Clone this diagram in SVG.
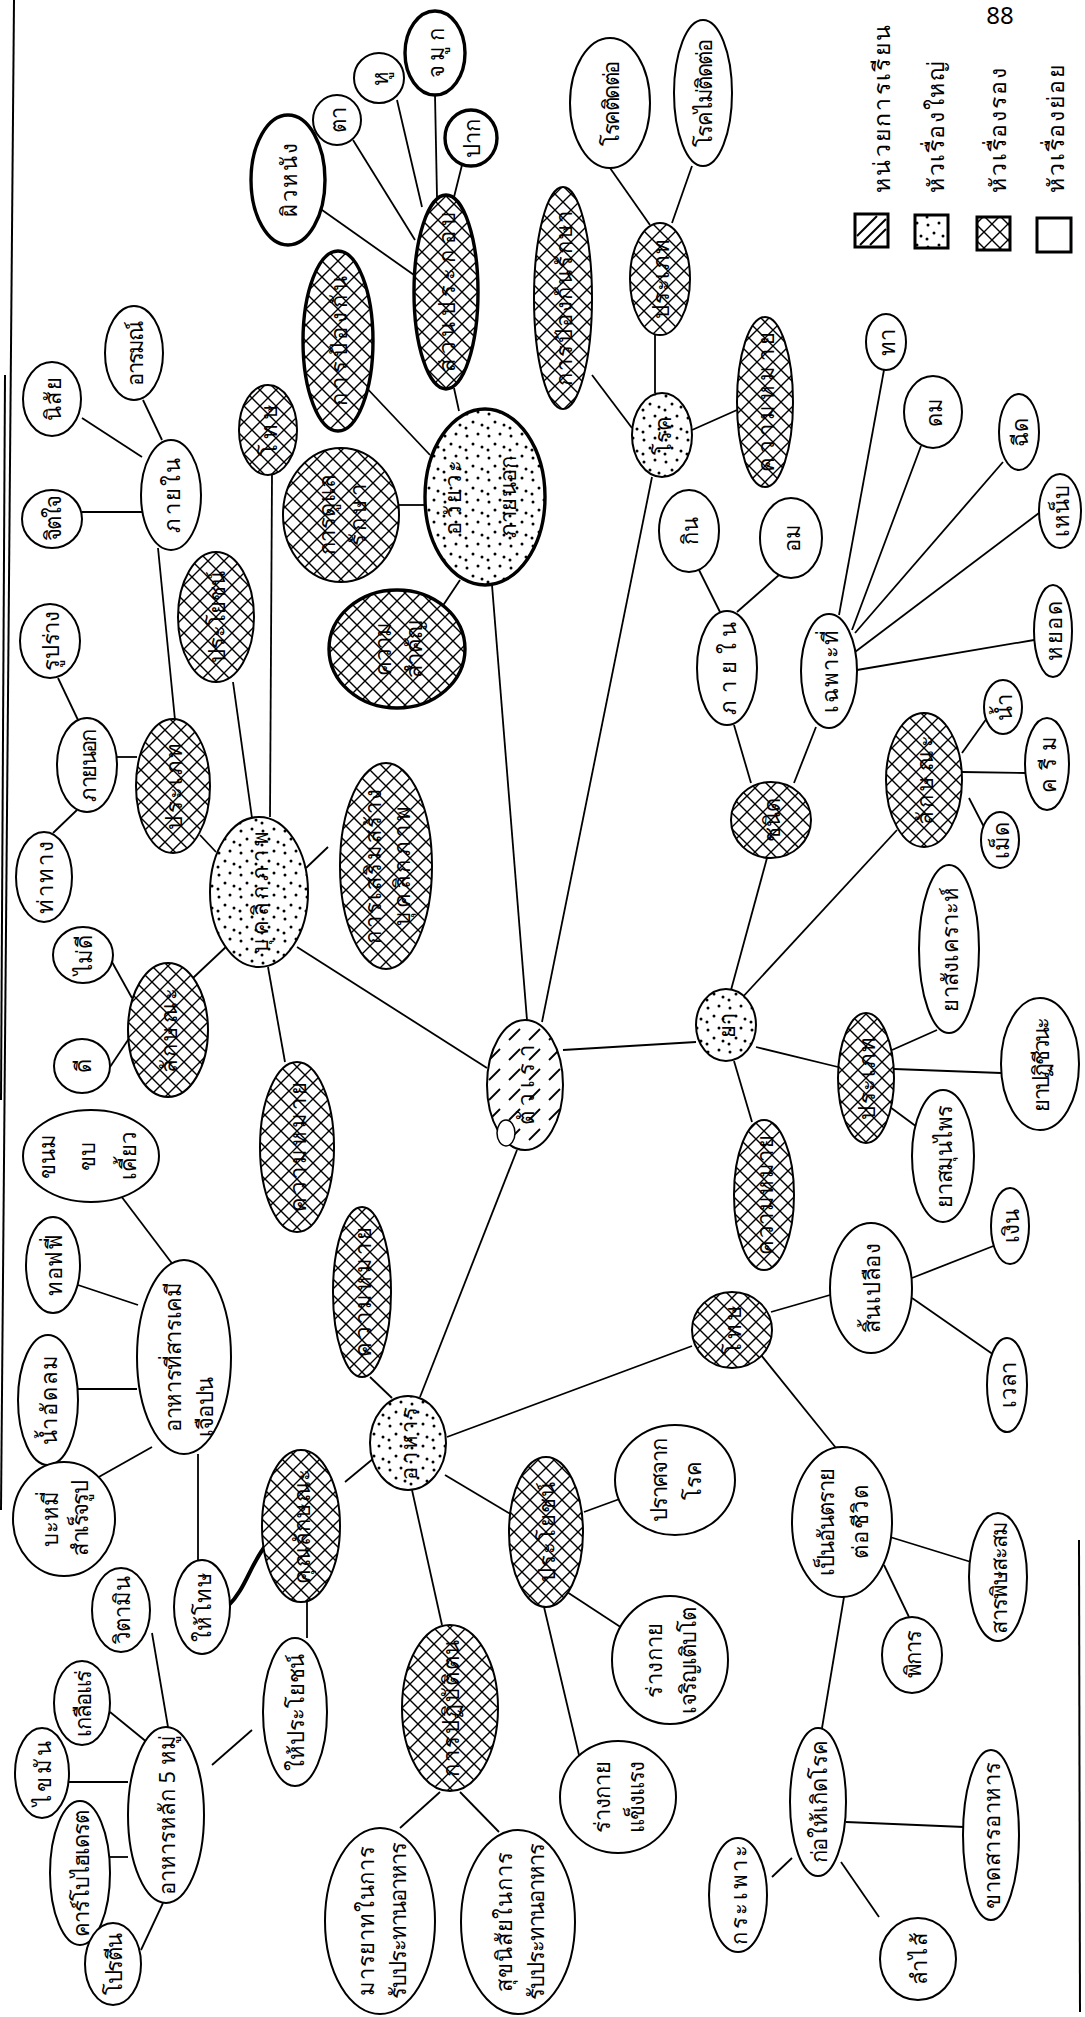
<svg xmlns="http://www.w3.org/2000/svg" width="1085" height="2017" viewBox="0 0 1085 2017">
<style>
.bg{fill:#fff}
.n{fill:#fff;stroke:#000;stroke-width:2}
.thick{stroke-width:3.4}
.dot{fill:url(#dots)}
.cross{fill:url(#cross)}
.hatch{fill:url(#hatch)}
.e line,.e path{stroke:#000;stroke-width:1.8;fill:none}
text{font-family:'Noto Sans','DejaVu Sans',sans-serif;font-size:22px;fill:#000;text-anchor:middle;dominant-baseline:central}
.lg{font-size:23px;text-anchor:start}
.border{stroke:#000;stroke-width:2;fill:none}
</style>
<defs>
<pattern id="dots" patternUnits="userSpaceOnUse" width="22" height="22">
<rect width="22" height="22" fill="#fff"/>
<circle cx="4" cy="5" r="1.5" fill="#000"/><circle cx="15" cy="3" r="1.5" fill="#000"/><circle cx="10" cy="13" r="1.5" fill="#000"/><circle cx="19" cy="16" r="1.5" fill="#000"/><circle cx="3" cy="19" r="1.5" fill="#000"/>
</pattern>
<pattern id="cross" patternUnits="userSpaceOnUse" width="16" height="16">
<rect width="16" height="16" fill="#fff"/>
<path d="M0,0 L16,16 M16,0 L0,16" stroke="#000" stroke-width="1.4"/>
</pattern>
<pattern id="hatch" patternUnits="userSpaceOnUse" width="20" height="20">
<rect width="20" height="20" fill="#fff"/>
<path d="M4,15 L15,4" stroke="#000" stroke-width="1.8"/>
</pattern>
</defs>
<rect class="bg" width="1085" height="2017"/>

<g id="frame">
<line class="border" x1="14" y1="0" x2="1" y2="1510"/>
<line class="border" x1="5" y1="375" x2="1" y2="1100"/>
<line class="border" x1="1079" y1="1540" x2="1080" y2="2012"/>
</g>

<g id="connectors" class="e">
<line x1="82" y1="418" x2="142" y2="457"/>
<line x1="143" y1="400" x2="162" y2="440"/>
<line x1="82" y1="512" x2="142" y2="512"/>
<line x1="158" y1="548" x2="175" y2="720"/>
<line x1="58" y1="678" x2="78" y2="720"/>
<line x1="53" y1="833" x2="77" y2="810"/>
<line x1="117" y1="757" x2="137" y2="757"/>
<line x1="200" y1="835" x2="216" y2="852"/>
<line x1="233" y1="682" x2="252" y2="818"/>
<line x1="272" y1="475" x2="270" y2="817"/>
<line x1="306" y1="868" x2="328" y2="847"/>
<line x1="228" y1="945" x2="193" y2="978"/>
<line x1="112" y1="962" x2="132" y2="998"/>
<line x1="110" y1="1067" x2="130" y2="1037"/>
<line x1="268" y1="967" x2="285" y2="1062"/>
<line x1="297" y1="947" x2="487" y2="1068"/>
<line x1="118" y1="1192" x2="177" y2="1270"/>
<line x1="78" y1="1285" x2="138" y2="1305"/>
<line x1="78" y1="1389" x2="137" y2="1389"/>
<line x1="97" y1="1478" x2="152" y2="1447"/>
<line x1="198" y1="1454" x2="198" y2="1560"/>
<path d="M228,1606 C245,1590 250,1565 266,1545" style="stroke-width:4"/>
<line x1="307" y1="1601" x2="307" y2="1638"/>
<line x1="252" y1="1730" x2="212" y2="1765"/>
<line x1="152" y1="1633" x2="168" y2="1727"/>
<line x1="110" y1="1712" x2="148" y2="1743"/>
<line x1="68" y1="1782" x2="128" y2="1782"/>
<line x1="110" y1="1857" x2="128" y2="1857"/>
<line x1="141" y1="1950" x2="163" y2="1903"/>
<line x1="345" y1="1482" x2="374" y2="1458"/>
<line x1="370" y1="1377" x2="392" y2="1398"/>
<line x1="517" y1="1150" x2="420" y2="1397"/>
<line x1="447" y1="1437" x2="692" y2="1346"/>
<line x1="445" y1="1475" x2="512" y2="1515"/>
<line x1="412" y1="1490" x2="442" y2="1625"/>
<line x1="440" y1="1792" x2="400" y2="1828"/>
<line x1="460" y1="1792" x2="499" y2="1832"/>
<line x1="584" y1="1512" x2="625" y2="1497"/>
<line x1="567" y1="1592" x2="622" y2="1628"/>
<line x1="544" y1="1607" x2="579" y2="1755"/>
<line x1="771" y1="1312" x2="830" y2="1295"/>
<line x1="912" y1="1278" x2="996" y2="1245"/>
<line x1="912" y1="1298" x2="994" y2="1355"/>
<line x1="761" y1="1355" x2="836" y2="1448"/>
<line x1="890" y1="1537" x2="971" y2="1562"/>
<line x1="884" y1="1565" x2="909" y2="1617"/>
<line x1="844" y1="1597" x2="822" y2="1728"/>
<line x1="846" y1="1822" x2="964" y2="1827"/>
<line x1="792" y1="1858" x2="772" y2="1877"/>
<line x1="841" y1="1862" x2="879" y2="1917"/>
<line x1="563" y1="1050" x2="696" y2="1042"/>
<line x1="756" y1="1047" x2="838" y2="1067"/>
<line x1="892" y1="1050" x2="937" y2="1030"/>
<line x1="894" y1="1069" x2="1001" y2="1073"/>
<line x1="890" y1="1107" x2="917" y2="1127"/>
<line x1="734" y1="1061" x2="752" y2="1122"/>
<line x1="731" y1="990" x2="767" y2="858"/>
<line x1="740" y1="1000" x2="897" y2="830"/>
<line x1="962" y1="753" x2="987" y2="718"/>
<line x1="962" y1="772" x2="1026" y2="773"/>
<line x1="969" y1="798" x2="984" y2="827"/>
<line x1="751" y1="783" x2="734" y2="725"/>
<line x1="794" y1="783" x2="816" y2="727"/>
<line x1="720" y1="612" x2="699" y2="570"/>
<line x1="737" y1="612" x2="779" y2="575"/>
<line x1="839" y1="615" x2="884" y2="370"/>
<line x1="852" y1="630" x2="921" y2="446"/>
<line x1="855" y1="633" x2="1003" y2="462"/>
<line x1="855" y1="652" x2="1039" y2="513"/>
<line x1="857" y1="670" x2="1034" y2="640"/>
<line x1="542" y1="1022" x2="652" y2="477"/>
<line x1="527" y1="1020" x2="492" y2="585"/>
<line x1="692" y1="430" x2="737" y2="410"/>
<line x1="655" y1="393" x2="655" y2="335"/>
<line x1="650" y1="225" x2="610" y2="168"/>
<line x1="672" y1="223" x2="692" y2="166"/>
<line x1="632" y1="428" x2="592" y2="375"/>
<line x1="459" y1="411" x2="454" y2="388"/>
<line x1="430" y1="455" x2="362" y2="383"/>
<line x1="424" y1="505" x2="399" y2="505"/>
<line x1="460" y1="580" x2="442" y2="607"/>
<line x1="315" y1="205" x2="414" y2="275"/>
<line x1="353" y1="140" x2="415" y2="240"/>
<line x1="397" y1="100" x2="422" y2="207"/>
<line x1="435" y1="95" x2="437" y2="197"/>
<line x1="462" y1="165" x2="454" y2="197"/>
</g>

<g id="nodes">
<g id="n-nisai" transform="translate(52,399)"><ellipse class="n" rx="29" ry="37"/><text transform="rotate(-90)" textLength="44">นิสัย</text></g>
<g id="n-arom" transform="translate(134,353)"><ellipse class="n" rx="29" ry="47"/><text transform="rotate(-90)" textLength="65">อารมณ์</text></g>
<g id="n-phainai1" transform="translate(171,495)"><ellipse class="n" rx="30" ry="55"/><text transform="rotate(-90)" textLength="75">ภายใน</text></g>
<g id="n-chitjai" transform="translate(52,519)"><ellipse class="n" rx="30" ry="29"/><text transform="rotate(-90)" textLength="46">จิตใจ</text></g>
<g id="n-ruprang" transform="translate(50,641)"><ellipse class="n" rx="30" ry="37"/><text transform="rotate(-90)" textLength="60">รูปร่าง</text></g>
<g id="n-phainok" transform="translate(87,765)"><ellipse class="n" rx="30" ry="47"/><text transform="rotate(-90)" textLength="73">ภายนอก</text></g>
<g id="n-thathang" transform="translate(44,877)"><ellipse class="n" rx="28" ry="45"/><text transform="rotate(-90)" textLength="73">ท่าทาง</text></g>
<g id="n-prapet1" transform="translate(173,786)"><ellipse class="n cross" rx="37" ry="67"/><text transform="rotate(-90)" textLength="87">ประเภท</text></g>
<g id="n-prayot1" transform="translate(216,617)"><ellipse class="n cross" rx="38" ry="65"/><text transform="rotate(-90)" textLength="92">ประโยชน์</text></g>
<g id="n-toht1" transform="translate(268,430)"><ellipse class="n cross" rx="29" ry="45"/><text transform="rotate(-90)" textLength="52">โทษ</text></g>
<g id="n-buk" transform="translate(259,892)"><ellipse class="n dot" rx="49" ry="75"/><text transform="rotate(-90)" textLength="122">บุคลิกภาพ</text></g>
<g id="n-maidee" transform="translate(83,955)"><ellipse class="n" rx="30" ry="28"/><text transform="rotate(-90)">ไม่ดี</text></g>
<g id="n-dee" transform="translate(82,1066)"><ellipse class="n" rx="28" ry="27"/><text transform="rotate(-90)">ดี</text></g>
<g id="n-laksana1" transform="translate(168,1030)"><ellipse class="n cross" rx="40" ry="67"/><text transform="rotate(-90)" textLength="85">ลักษณะ</text></g>
<g id="n-khwammai1" transform="translate(297,1147)"><ellipse class="n cross" rx="37" ry="85"/><text transform="rotate(-90)" textLength="130">ความหมาย</text></g>
<g id="n-soemsang" transform="translate(386,866)"><ellipse class="n cross" rx="46" ry="103"/><text transform="translate(-14,0) rotate(-90)" textLength="155">การเสริมสร้าง</text><text transform="translate(15,0) rotate(-90)" textLength="120">บุคลิกภาพ</text></g>
<g id="n-khanom" transform="translate(91,1156)"><ellipse class="n" rx="68" ry="46"/><text transform="translate(-45,0) rotate(-90)">ขนม</text><text transform="translate(-5,0) rotate(-90)">ขบ</text><text transform="translate(36,0) rotate(-90)">เคี้ยว</text></g>
<g id="n-toffee" transform="translate(53,1265)"><ellipse class="n" rx="27" ry="48"/><text transform="rotate(-90)" textLength="62">ทอฟฟี่</text></g>
<g id="n-namatlom" transform="translate(48,1400)"><ellipse class="n" rx="30" ry="65"/><text transform="rotate(-90)" textLength="90">น้ำอัดลม</text></g>
<g id="n-chemical" transform="translate(184,1357)"><ellipse class="n" rx="47" ry="97"/><text transform="translate(-12,0) rotate(-90)" textLength="150">อาหารที่สารเคมี</text><text transform="translate(20,50) rotate(-90)" textLength="60">เจือปน</text></g>
<g id="n-bami" transform="translate(64,1519)"><ellipse class="n" rx="51" ry="57"/><text transform="translate(-15,0) rotate(-90)">บะหมี่</text><text transform="translate(15,0) rotate(-90)" textLength="76">สำเร็จรูป</text></g>
<g id="n-witamin" transform="translate(121,1610)"><ellipse class="n" rx="29" ry="42"/><text transform="rotate(-90)">วิตามิน</text></g>
<g id="n-haitoht" transform="translate(202,1607)"><ellipse class="n" rx="28" ry="47"/><text transform="rotate(-90)" textLength="70">ให้โทษ</text></g>
<g id="n-khunlaksana" transform="translate(301,1526)"><ellipse class="n cross" rx="39" ry="76"/><text transform="rotate(-90)" textLength="115">คุณลักษณะ</text></g>
<g id="n-haiprayot" transform="translate(295,1712)"><ellipse class="n" rx="32" ry="74"/><text transform="rotate(-90)" textLength="117">ให้ประโยชน์</text></g>
<g id="n-lak5" transform="translate(166,1815)"><ellipse class="n" rx="38" ry="88"/><text transform="rotate(-90)" textLength="160">อาหารหลัก 5 หมู่</text></g>
<g id="n-kluea" transform="translate(82,1703)"><ellipse class="n" rx="28" ry="42"/><text transform="rotate(-90)" textLength="67">เกลือแร่</text></g>
<g id="n-khaiman" transform="translate(42,1773)"><ellipse class="n" rx="27" ry="45"/><text transform="rotate(-90)" textLength="65">ไขมัน</text></g>
<g id="n-carb" transform="translate(80,1873)"><ellipse class="n" rx="30" ry="72"/><text transform="rotate(-90)" textLength="127">คาร์โบไฮเดรต</text></g>
<g id="n-protein" transform="translate(113,1964)"><ellipse class="n" rx="28" ry="41"/><text transform="rotate(-90)" textLength="62">โปรตีน</text></g>
<g id="n-khwammai2" transform="translate(362,1292)"><ellipse class="n cross" rx="29" ry="85"/><text transform="rotate(-90)" textLength="130">ความหมาย</text></g>
<g id="n-ahan" transform="translate(408,1443)"><ellipse class="n dot" rx="38" ry="47"/><text transform="rotate(-90)" textLength="73">อาหาร</text></g>
<g id="n-patibat" transform="translate(450,1708)"><ellipse class="n cross" rx="48" ry="83"/><text transform="rotate(-90)" textLength="137">การปฏิบัติตน</text></g>
<g id="n-marayat" transform="translate(380,1921)"><ellipse class="n" rx="55" ry="93"/><text transform="translate(-15,0) rotate(-90)" textLength="150">มารยาทในการ</text><text transform="translate(17,0) rotate(-90)" textLength="157">รับประทานอาหาร</text></g>
<g id="n-suk" transform="translate(518,1922)"><ellipse class="n" rx="57" ry="92"/><text transform="translate(-15,0) rotate(-90)" textLength="140">สุขนิสัยในการ</text><text transform="translate(17,0) rotate(-90)" textLength="157">รับประทานอาหาร</text></g>
<g id="n-prayot2" transform="translate(546,1532)"><ellipse class="n cross" rx="37" ry="75"/><text transform="rotate(-90)" textLength="100">ประโยชน์</text></g>
<g id="n-pratsajak" transform="translate(675,1480)"><ellipse class="n" rx="60" ry="55"/><text transform="translate(-17,0) rotate(-90)" textLength="84">ปราศจาก</text><text transform="translate(17,0) rotate(-90)">โรค</text></g>
<g id="n-charoen" transform="translate(670,1660)"><ellipse class="n" rx="58" ry="64"/><text transform="translate(-17,0) rotate(-90)" textLength="75">ร่างกาย</text><text transform="translate(17,0) rotate(-90)" textLength="107">เจริญเติบโต</text></g>
<g id="n-khaengraeng" transform="translate(618,1797)"><ellipse class="n" rx="58" ry="56"/><text transform="translate(-17,0) rotate(-90)" textLength="72">ร่างกาย</text><text transform="translate(17,0) rotate(-90)" textLength="72">แข็งแรง</text></g>
<g id="n-toht2" transform="translate(732,1330)"><ellipse class="n cross" rx="40" ry="38"/><text transform="rotate(-90)" textLength="50">โทษ</text></g>
<g id="n-sinpluang" transform="translate(871,1288)"><ellipse class="n" rx="41" ry="65"/><text transform="rotate(-90)" textLength="90">สิ้นเปลือง</text></g>
<g id="n-ngoen" transform="translate(1010,1226)"><ellipse class="n" rx="19" ry="38"/><text transform="rotate(-90)">เงิน</text></g>
<g id="n-wela" transform="translate(1007,1385)"><ellipse class="n" rx="20" ry="47"/><text transform="rotate(-90)" textLength="46">เวลา</text></g>
<g id="n-antarai" transform="translate(842,1522)"><ellipse class="n" rx="50" ry="75"/><text transform="translate(-17,0) rotate(-90)" textLength="108">เป็นอันตราย</text><text transform="translate(17,0) rotate(-90)" textLength="74">ต่อชีวิต</text></g>
<g id="n-sarapit" transform="translate(998,1577)"><ellipse class="n" rx="29" ry="64"/><text transform="rotate(-90)" textLength="113">สารพิษสะสม</text></g>
<g id="n-pikan" transform="translate(912,1655)"><ellipse class="n" rx="30" ry="38"/><text transform="rotate(-90)" textLength="48">พิการ</text></g>
<g id="n-korkoet" transform="translate(818,1802)"><ellipse class="n" rx="28" ry="74"/><text transform="rotate(-90)" textLength="123">ก่อให้เกิดโรค</text></g>
<g id="n-khat" transform="translate(991,1835)"><ellipse class="n" rx="28" ry="85"/><text transform="rotate(-90)" textLength="147">ขาดสารอาหาร</text></g>
<g id="n-krapho" transform="translate(738,1895)"><ellipse class="n" rx="29" ry="57"/><text transform="rotate(-90)" textLength="100">กระเพาะ</text></g>
<g id="n-lamsai" transform="translate(918,1959)"><ellipse class="n" rx="38" ry="41"/><text transform="rotate(-90)" textLength="52">ลำไส้</text></g>
<g id="n-tuarao" transform="translate(525,1085)"><ellipse class="n hatch" rx="38" ry="65"/><ellipse class="n" cx="-19" cy="48" rx="9" ry="13" style="stroke-width:1.5"/><text transform="rotate(-90)" textLength="80">ตัวเรา</text></g>
<g id="n-ya" transform="translate(726,1025)"><ellipse class="n dot" rx="30" ry="36"/><text transform="rotate(-90)">ยา</text></g>
<g id="n-prapet2" transform="translate(866,1078)"><ellipse class="n cross" rx="28" ry="65"/><text transform="rotate(-90)" textLength="83">ประเภท</text></g>
<g id="n-yasangkhro" transform="translate(949,949)"><ellipse class="n" rx="30" ry="84"/><text transform="rotate(-90)" textLength="125">ยาสังเคราะห์</text></g>
<g id="n-yapati" transform="translate(1040,1064)"><ellipse class="n" rx="39" ry="66"/><text transform="rotate(-90)" textLength="95">ยาปฏิชีวนะ</text></g>
<g id="n-yasamunphrai" transform="translate(943,1156)"><ellipse class="n" rx="31" ry="66"/><text transform="rotate(-90)" textLength="103">ยาสมุนไพร</text></g>
<g id="n-khwammai3" transform="translate(764,1195)"><ellipse class="n cross" rx="30" ry="75"/><text transform="rotate(-90)" textLength="120">ความหมาย</text></g>
<g id="n-chanit" transform="translate(771,820)"><ellipse class="n cross" rx="40" ry="38"/><text transform="rotate(-90)">ชนิด</text></g>
<g id="n-phainai2" transform="translate(727,668)"><ellipse class="n" rx="30" ry="57"/><text transform="rotate(-90)" textLength="93">ภายใน</text></g>
<g id="n-kin" transform="translate(689,531)"><ellipse class="n" rx="30" ry="41"/><text transform="rotate(-90)">กิน</text></g>
<g id="n-om" transform="translate(791,538)"><ellipse class="n" rx="31" ry="40"/><text transform="rotate(-90)">อม</text></g>
<g id="n-chaphothi" transform="translate(829,671)"><ellipse class="n" rx="28" ry="57"/><text transform="rotate(-90)" textLength="83">เฉพาะที่</text></g>
<g id="n-tha" transform="translate(886,342)"><ellipse class="n" rx="20" ry="28"/><text transform="rotate(-90)">ทา</text></g>
<g id="n-dom" transform="translate(933,412)"><ellipse class="n" rx="29" ry="36"/><text transform="rotate(-90)">ดม</text></g>
<g id="n-chit" transform="translate(1019,432)"><ellipse class="n" rx="20" ry="38"/><text transform="rotate(-90)">ฉีด</text></g>
<g id="n-nep" transform="translate(1060,511)"><ellipse class="n" rx="21" ry="37"/><text transform="rotate(-90)">เหน็บ</text></g>
<g id="n-yot" transform="translate(1053,631)"><ellipse class="n" rx="19" ry="46"/><text transform="rotate(-90)" textLength="60">หยอด</text></g>
<g id="n-laksana2" transform="translate(924,780)"><ellipse class="n cross" rx="38" ry="67"/><text transform="rotate(-90)" textLength="90">ลักษณะ</text></g>
<g id="n-nam" transform="translate(1003,707)"><ellipse class="n" rx="19" ry="27"/><text transform="rotate(-90)">น้ำ</text></g>
<g id="n-cream" transform="translate(1047,764)"><ellipse class="n" rx="22" ry="46"/><text transform="rotate(-90)" textLength="57">ครีม</text></g>
<g id="n-met" transform="translate(1000,840)"><ellipse class="n" rx="19" ry="28"/><text transform="rotate(-90)">เม็ด</text></g>
<g id="n-rok" transform="translate(662,435)"><ellipse class="n dot" rx="30" ry="42"/><text transform="rotate(-90)">โรค</text></g>
<g id="n-khwammai4" transform="translate(765,402)"><ellipse class="n cross" rx="28" ry="85"/><text transform="rotate(-90)" textLength="140">ความหมาย</text></g>
<g id="n-prapet3" transform="translate(660,279)"><ellipse class="n cross" rx="30" ry="56"/><text transform="rotate(-90)" textLength="80">ประเภท</text></g>
<g id="n-roktitto" transform="translate(610,103)"><ellipse class="n" rx="40" ry="65"/><text transform="rotate(-90)" textLength="85">โรคติดต่อ</text></g>
<g id="n-rokmaitit" transform="translate(703,93)"><ellipse class="n" rx="29" ry="73"/><text transform="rotate(-90)" textLength="108">โรคไม่ติดต่อ</text></g>
<g id="n-pongkanraksa" transform="translate(563,298)"><ellipse class="n cross" rx="29" ry="111"/><text transform="rotate(-90)" textLength="175">การป้องกันรักษา</text></g>
<g id="n-awaiyawa" transform="translate(485,497)"><ellipse class="n dot thick" rx="60" ry="88"/><text transform="translate(-33,0) rotate(-90)" textLength="75">อวัยวะ</text><text transform="translate(22,0) rotate(-90)" textLength="82">ภายนอก</text></g>
<g id="n-suanprakop" transform="translate(446,292)"><ellipse class="n cross thick" rx="32" ry="97"/><text transform="rotate(-90)" textLength="160">ส่วนประกอบ</text></g>
<g id="n-skin" transform="translate(288,180)"><ellipse class="n thick" rx="37" ry="65"/><text transform="rotate(-90)" textLength="74">ผิวหนัง</text></g>
<g id="n-ta" transform="translate(337,120)"><ellipse class="n" rx="24" ry="25"/><text transform="rotate(-90)">ตา</text></g>
<g id="n-hu" transform="translate(379,78)"><ellipse class="n" rx="25" ry="25"/><text transform="rotate(-90)">หู</text></g>
<g id="n-chamuk" transform="translate(435,53)"><ellipse class="n thick" rx="30" ry="42"/><text transform="rotate(-90)" textLength="50">จมูก</text></g>
<g id="n-pak" transform="translate(471,138)"><ellipse class="n thick" rx="26" ry="28"/><text transform="rotate(-90)">ปาก</text></g>
<g id="n-pongkan" transform="translate(338,341)"><ellipse class="n cross thick" rx="35" ry="90"/><text transform="rotate(-90)" textLength="130">การป้องกัน</text></g>
<g id="n-duelae" transform="translate(341,515)"><ellipse class="n cross" rx="58" ry="67"/><text transform="translate(-15,0) rotate(-90)" textLength="80">การดูแล</text><text transform="translate(16,0) rotate(-90)" textLength="62">รักษา</text></g>
<g id="n-samkhan" transform="translate(397,649)"><ellipse class="n cross thick" rx="68" ry="59"/><text transform="translate(-15,0) rotate(-90)">ความ</text><text transform="translate(16,0) rotate(-90)" textLength="58">สำคัญ</text></g>
</g>

<g id="legend">
<rect x="855" y="214" width="33" height="33" fill="#fff" stroke="#000" stroke-width="3"/>
<path d="M857,236 L877,216 M860,245 L886,219 M870,245 L886,229" stroke="#000" stroke-width="2" fill="none"/>
<rect x="915" y="215" width="33" height="33" fill="url(#dots)" stroke="#000" stroke-width="3"/>
<rect x="977" y="217" width="33" height="33" fill="url(#cross)" stroke="#000" stroke-width="3"/>
<rect x="1037" y="218" width="34" height="34" fill="#fff" stroke="#000" stroke-width="3"/>
<text class="lg" transform="translate(881,193) rotate(-90)" textLength="168">หน่วยการเรียน</text>
<text class="lg" transform="translate(935,193) rotate(-90)" textLength="132">หัวเรื่องใหญ่</text>
<text class="lg" transform="translate(997,193) rotate(-90)" textLength="125">หัวเรื่องรอง</text>
<text class="lg" transform="translate(1055,193) rotate(-90)" textLength="128">หัวเรื่องย่อย</text>
<text x="1000" y="14" style="font-size:24px">88</text>
</g>
</svg>
